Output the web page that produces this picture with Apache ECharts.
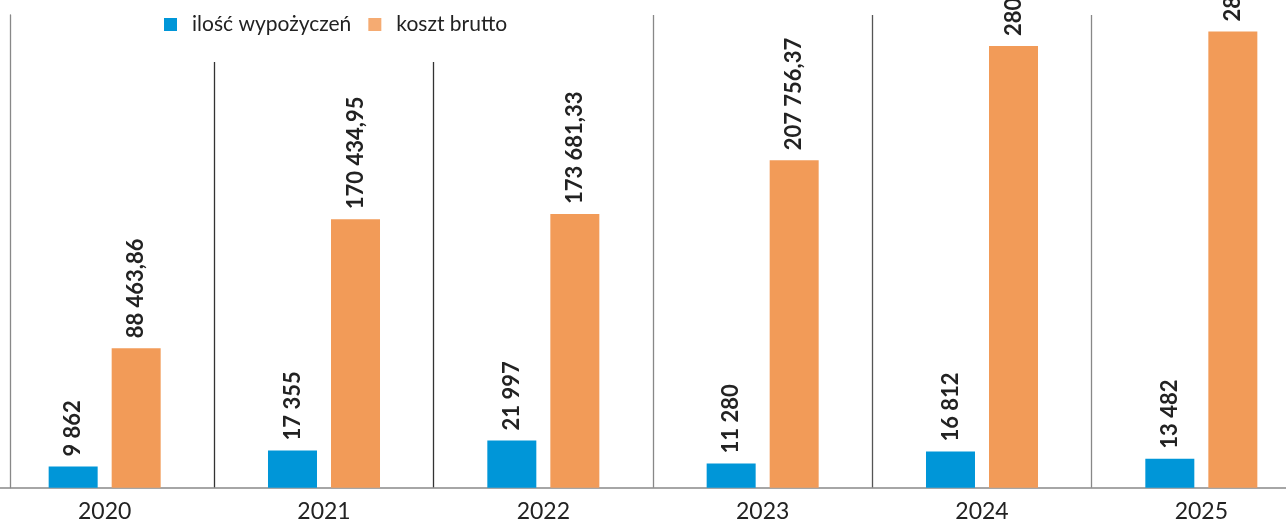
<!DOCTYPE html>
<html>
<head>
<meta charset="utf-8">
<script src="https://cdn.jsdelivr.net/npm/echarts@6/dist/echarts.min.js"></script>
<style>
html,body{margin:0;padding:0;background:#fff;}
#chart{width:1286px;height:521px;}
</style>
</head>
<body>
<div id="chart"></div>
<script>
var categories = ['2020', '2021', '2022', '2023', '2024', '2025'];
var seriesNames = ['ilość wypożyczeń', 'koszt brutto'];
// ilość wypożyczeń
var rentals = [9862, 17355, 21997, 11280, 16812, 13482];
// koszt brutto (2024 and 2025 labels are cut off in the reference; trailing digits estimated)
var costs = [88463.86, 170434.95, 173681.33, 207756.37, 280300.00, 289500.00];

function groupThousands(s) {
  return s.replace(/\B(?=(\d{3})+(?!\d))/g, ' ');
}
function fmtInt(v) { return groupThousands(String(Math.round(v))); }
function fmtMoney(v) {
  var p = v.toFixed(2).split('.');
  return groupThousands(p[0]) + ',' + p[1];
}

var FONT = 'Lato';
var chart = echarts.init(document.getElementById('chart'), null, {renderer: 'canvas'});
chart.setOption({
  animation: false,
  backgroundColor: '#fff',
  textStyle: {fontFamily: FONT},
  legend: {
    left: 154,
    top: 12,
    padding: [2, 10, 27, 10],
    backgroundColor: '#fff',
    itemWidth: 13,
    itemHeight: 13,
    itemGap: 17,
    icon: 'rect',
    textStyle: {fontFamily: FONT, fontSize: 21, color: '#222', padding: [0, 0, 0, 10]},
    data: [
      {name: seriesNames[0], itemStyle: {color: '#0096D8'}},
      {name: seriesNames[1], itemStyle: {color: '#F5AB72'}}
    ]
  },
  grid: {left: -5, right: -25, top: 15, bottom: 33.3, containLabel: false, outerBoundsMode: 'none'},
  xAxis: {
    type: 'category',
    data: categories,
    boundaryGap: true,
    axisLine: {show: true, lineStyle: {color: '#888', width: 1.5}},
    axisTick: {show: false},
    axisLabel: {fontFamily: FONT, fontSize: 23, color: '#222', margin: 12},
    splitLine: {
      show: true,
      lineStyle: {color: ['#888', '#333', '#333', '#888', '#555', '#888', '#888'], width: 1.3}
    }
  },
  yAxis: [
    {
      type: 'value', min: 0, max: 220000, position: 'left', offset: -15,
      axisLine: {show: true, lineStyle: {color: '#888', width: 1.3}},
      axisTick: {show: false}, axisLabel: {show: false}, splitLine: {show: false}
    },
    {
      type: 'value', min: 0, max: 300000, position: 'left',
      axisLine: {show: false}, axisTick: {show: false}, axisLabel: {show: false}, splitLine: {show: false}
    }
  ],
  series: [
    {
      name: seriesNames[0],
      type: 'bar',
      yAxisIndex: 0,
      data: rentals,
      barWidth: 49,
      barGap: '28.6%',
      itemStyle: {color: '#0096D8'},
      label: {
        show: true, position: 'top', rotate: 90, align: 'left', verticalAlign: 'middle',
        distance: 10, fontFamily: FONT, fontSize: 22, fontWeight: 'bold', color: '#222',
        formatter: function (p) { return fmtInt(p.value); }
      }
    },
    {
      name: seriesNames[1],
      type: 'bar',
      yAxisIndex: 1,
      data: costs,
      barWidth: 49,
      barGap: '28.6%',
      itemStyle: {color: '#F29B58'},
      label: {
        show: true, position: 'top', rotate: 90, align: 'left', verticalAlign: 'middle',
        distance: 10, fontFamily: FONT, fontSize: 22, fontWeight: 'bold', color: '#222',
        formatter: function (p) { return fmtMoney(p.value); }
      }
    }
  ]
});
</script>
</body>
</html>
